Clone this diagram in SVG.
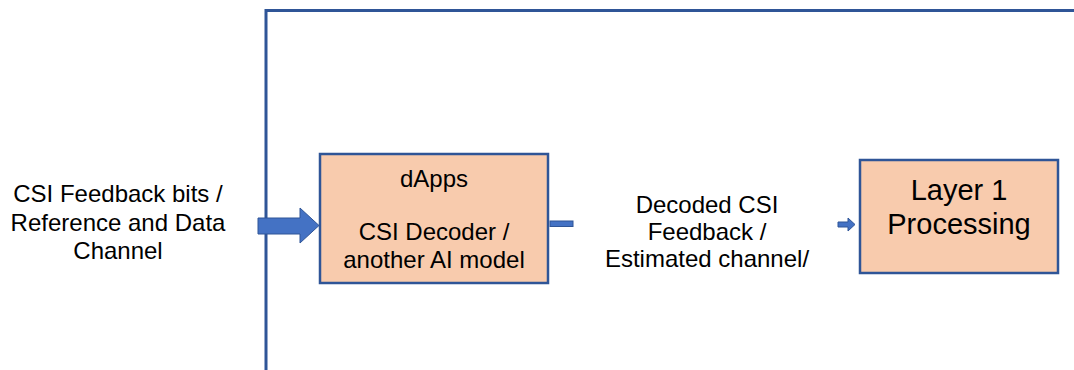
<svg xmlns="http://www.w3.org/2000/svg" width="1074" height="370" viewBox="0 0 1074 370">
<style>
.box{fill:#F8CBAD;stroke:#2F5597;stroke-width:2.5}
.frame{fill:none;stroke:#2F5597;stroke-width:3}
.arr{fill:#4472C4;stroke:#2F5597;stroke-width:1}
text{font-family:"Liberation Sans",Arial,sans-serif;font-size:24px;fill:#000;text-anchor:middle}
.big{font-size:29px}
</style>
<rect width="1074" height="370" fill="#fff"/>
<g id="frame">
<polyline class="frame" points="266,370 266,10.5 1074,10.5"/>
</g>
<g id="connectors">
<polygon class="arr" points="258,218 300,218 300,208 319,225.5 300,243 300,234 258,234"/>
<rect class="arr" x="550" y="221" width="23" height="5.5"/>
<polygon class="arr" points="838,222 848,222 848,218 855,224.5 848,231 848,227 838,227"/>
</g>
<g id="input-label">
<text x="118" y="202">CSI Feedback bits /</text>
<text x="118" y="230.5">Reference and Data</text>
<text x="118" y="259">Channel</text>
</g>
<g id="dapps">
<rect class="box" x="320" y="154" width="228" height="129"/>
<text x="434" y="187">dApps</text>
<text x="434" y="240">CSI Decoder /</text>
<text x="434" y="268">another AI model</text>
</g>
<g id="decoded-label">
<text x="707" y="213">Decoded CSI</text>
<text x="707" y="240">Feedback /</text>
<text x="707" y="267">Estimated channel/</text>
</g>
<g id="layer1">
<rect class="box" x="860" y="160" width="198" height="113"/>
<text class="big" x="959" y="200">Layer 1</text>
<text class="big" x="959" y="233.5">Processing</text>
</g>
</svg>
